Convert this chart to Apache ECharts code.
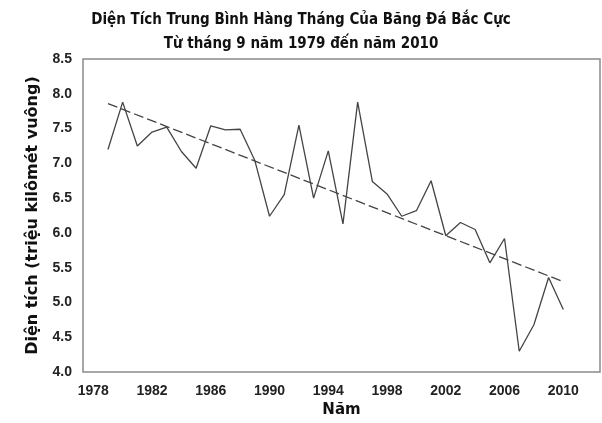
<!DOCTYPE html>
<html>
<head>
<meta charset="utf-8">
<script src="https://cdn.jsdelivr.net/npm/echarts@6/dist/echarts.min.js"></script>
<style>html,body{margin:0;padding:0;background:#fff}#c{width:602px;height:423px}</style>
</head>
<body>
<div id="c"></div>
<script>
var years = [1979,1980,1981,1982,1983,1984,1985,1986,1987,1988,1989,1990,1991,1992,1993,1994,1995,1996,1997,1998,1999,2000,2001,2002,2003,2004,2005,2006,2007,2008,2009,2010];
var extent = [7.20,7.88,7.25,7.45,7.52,7.17,6.93,7.54,7.48,7.49,7.04,6.24,6.55,7.55,6.50,7.18,6.13,7.88,6.74,6.56,6.24,6.32,6.75,5.96,6.15,6.05,5.57,5.92,4.30,4.68,5.36,4.90];
var trendYears = [1979, 2010];
var trendValues = [7.86, 5.30];
var xTickLabels = [1978,1982,1986,1990,1994,1998,2002,2006,2010];

var chart = echarts.init(document.getElementById('c'));
var lab = {fontFamily:'Liberation Sans', fontWeight:'bold', fontSize:14, color:'#222'};
chart.setOption({
  animation:false,
  title:{
    text:'Diện Tích Trung Bình Hàng Tháng Của Băng Đá Bắc Cực\nTừ tháng 9 năm 1979 đến năm 2010',
    left:296, top:3, textAlign:'center',
    textStyle:{fontFamily:'DejaVu Sans Condensed', fontWeight:'bold', fontSize:15, lineHeight:24, color:'#111'}
  },
  grid:{left:83, top:59, right:2, bottom:50, show:true, borderColor:'#8a8a8a', borderWidth:1.5, backgroundColor:'#fff'},
  xAxis:{
    type:'value', min:1977.3, max:2012.5,
    name:'Năm', nameLocation:'middle', nameGap:27,
    nameTextStyle:{fontFamily:'DejaVu Sans', fontWeight:'bold', fontSize:15, color:'#111'},
    axisLine:{show:false}, axisTick:{show:false}, splitLine:{show:false},
    axisLabel:Object.assign({customValues:xTickLabels, margin:12, formatter:function(v){return String(v);}}, lab)
  },
  yAxis:{
    type:'value', min:4, max:8.5, interval:0.5,
    name:'Diện tích (triệu kilômét vuông)', nameLocation:'middle', nameGap:42, nameRotate:90,
    nameTextStyle:{fontFamily:'DejaVu Sans', fontWeight:'bold', fontSize:16, color:'#111'},
    axisLine:{show:false}, axisTick:{show:false}, splitLine:{show:false},
    axisLabel:Object.assign({margin:11, formatter:function(v){return v.toFixed(1);}}, lab)
  },
  series:[
    {type:'line', data:years.map(function(y,i){return [y, extent[i]];}), symbol:'none',
     lineStyle:{color:'#444', width:1.3}},
    {type:'line', data:trendYears.map(function(y,i){return [y, trendValues[i]];}), symbol:'none',
     lineStyle:{color:'#444', width:1.3, type:[10,4]}}
  ]
});
</script>
</body>
</html>
